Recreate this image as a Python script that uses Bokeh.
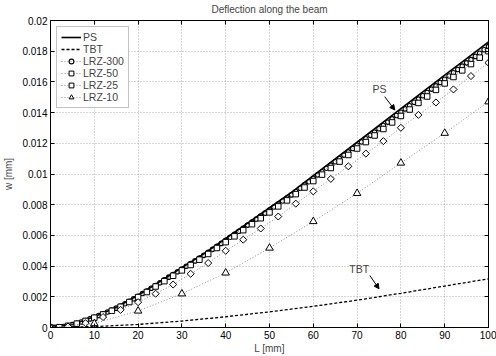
from bokeh.plotting import figure
from bokeh.models import (Range1d, LinearAxis, FixedTicker, CustomJSTickFormatter,
                          Legend, LegendItem, Label, Arrow, NormalHead, Title)
from bokeh.embed import file_html
from bokeh.resources import INLINE

# ---------------- data ----------------
L_ps = [0, 5, 10, 15, 20, 25, 30, 35, 40, 45, 50, 55, 60, 65, 70, 75, 80, 85, 90, 95, 100]
w_ps = [0, 0.0002, 0.0007, 0.0013, 0.0021, 0.0030, 0.0039, 0.0048, 0.0058, 0.0068, 0.0078,
        0.0088, 0.0099, 0.01099, 0.01208, 0.01317, 0.01426, 0.01535, 0.01644, 0.01752, 0.0186]

L_tbt = [0, 10, 20, 30, 40, 50, 60, 70, 80, 90, 100]
w_tbt = [0, 0.00006, 0.0002, 0.00042, 0.0007, 0.00102, 0.00138, 0.00178, 0.00223, 0.0027, 0.00317]

L_300 = list(range(0, 101))
w_300 = [0, 0.00001, 0.00003, 0.00007, 0.00012, 0.00019, 0.00027, 0.00036, 0.00045, 0.00056,
         0.00067, 0.00078, 0.00089, 0.00101, 0.00113, 0.00126, 0.00140, 0.00155, 0.00171, 0.00187,
         0.00204, 0.00221, 0.00238, 0.00256, 0.00274, 0.00292, 0.00310, 0.00328, 0.00345, 0.00363,
         0.00381, 0.00399, 0.00417, 0.00434, 0.00452, 0.00470, 0.00490, 0.00509, 0.00529, 0.00548,
         0.00568, 0.00588, 0.00607, 0.00627, 0.00647, 0.00667, 0.00687, 0.00706, 0.00726, 0.00745,
         0.00765, 0.00785, 0.00805, 0.00824, 0.00844, 0.00864, 0.00886, 0.00907, 0.00929, 0.00950,
         0.00972, 0.00994, 0.01015, 0.01037, 0.01058, 0.01080, 0.01101, 0.01123, 0.01144, 0.01166,
         0.01187, 0.01209, 0.01230, 0.01252, 0.01273, 0.01295, 0.01316, 0.01338, 0.01359, 0.01381,
         0.01402, 0.01424, 0.01445, 0.01467, 0.01488, 0.01510, 0.01531, 0.01553, 0.01574, 0.01596,
         0.01617, 0.01638, 0.01660, 0.01681, 0.01703, 0.01724, 0.01745, 0.01766, 0.01787, 0.01809,
         0.01830]

L_50 = list(range(0, 101, 2))
w_50 = [0, 0.00002, 0.00011, 0.00025, 0.00043, 0.00064, 0.00085, 0.00109, 0.00135, 0.00166,
        0.00198, 0.00231, 0.00267, 0.00302, 0.00337, 0.00372, 0.00407, 0.00442, 0.00479, 0.00518,
        0.00556, 0.00594, 0.00634, 0.00673, 0.00712, 0.00750, 0.00789, 0.00828, 0.00869, 0.00912,
        0.00954, 0.00996, 0.01039, 0.01081, 0.01124, 0.01166, 0.01208, 0.01251, 0.01293, 0.01336,
        0.01378, 0.01420, 0.01463, 0.01505, 0.01548, 0.01590, 0.01632, 0.01675, 0.01716, 0.01758,
        0.01800]

L_25 = list(range(0, 101, 4))
w_25 = [0, 0.00006, 0.00028, 0.00068, 0.00115, 0.00165, 0.0022, 0.0028, 0.0035, 0.0042,
        0.0050, 0.00572, 0.00645, 0.00723, 0.00807, 0.00887, 0.00968, 0.0105, 0.01133, 0.01214,
        0.01301, 0.01385, 0.01466, 0.01551, 0.01638, 0.01725]

L_10 = [0, 10, 20, 30, 40, 50, 60, 70, 80, 90, 100]
w_10 = [0, 0.00026, 0.00108, 0.0022, 0.00356, 0.00518, 0.00691, 0.00874, 0.01072, 0.01266, 0.01471]

x_ticks = [0, 10, 20, 30, 40, 50, 60, 70, 80, 90, 100]
y_ticks = [0, 0.002, 0.004, 0.006, 0.008, 0.01, 0.012, 0.014, 0.016, 0.018, 0.02]

FONT = "Liberation Sans"
FS = "10px"
FS_LEG = "10.5px"

p = figure(width=496, height=356, output_backend="svg", toolbar_location=None,
           x_range=Range1d(0, 100), y_range=Range1d(0, 0.02),
           min_border_left=49, min_border_right=8, min_border_top=20, min_border_bottom=27)

p.outline_line_color = "black"
p.outline_line_width = 1

fmt = CustomJSTickFormatter(code="return String(Math.round(tick*1000)/1000);")

for ax in (p.xaxis[0], p.yaxis[0]):
    ax.major_tick_in = 4
    ax.major_tick_out = 0
    ax.minor_tick_in = 0
    ax.minor_tick_out = 0
    ax.axis_line_color = "black"
    ax.major_label_text_font = FONT
    ax.major_label_text_font_size = FS
    ax.major_label_text_color = "black"
    ax.axis_label_text_font = FONT
    ax.axis_label_text_font_size = FS
    ax.axis_label_text_font_style = "normal"
    ax.major_label_standoff = 3

p.xaxis[0].ticker = FixedTicker(ticks=x_ticks)
p.yaxis[0].ticker = FixedTicker(ticks=y_ticks)
p.yaxis[0].formatter = fmt
p.xaxis[0].axis_label = "L [mm]"
p.yaxis[0].axis_label = "w [mm]"
p.xaxis[0].axis_label_standoff = 1
p.yaxis[0].axis_label_standoff = 5

top = LinearAxis(ticker=FixedTicker(ticks=x_ticks), major_tick_in=4, major_tick_out=0,
                 minor_tick_in=0, minor_tick_out=0, major_label_text_font_size="1px",
                 major_label_text_color=None, major_label_standoff=0)
right = LinearAxis(ticker=FixedTicker(ticks=y_ticks), major_tick_in=4, major_tick_out=0,
                   minor_tick_in=0, minor_tick_out=0, major_label_text_font_size="1px",
                   major_label_text_color=None, major_label_standoff=0)
p.add_layout(top, "above")
p.add_layout(right, "right")

title = Title(text="Deflection along the beam", align="center", vertical_align="top",
              text_font=FONT, text_font_size="10px", text_font_style="normal",
              offset=0, standoff=7)
p.add_layout(title, "above")

p.xgrid.ticker = FixedTicker(ticks=x_ticks)
p.ygrid.ticker = FixedTicker(ticks=y_ticks)
for g in (p.xgrid[0], p.ygrid[0]):
    g.grid_line_color = "#9a9a9a"
    g.grid_line_dash = "1 2"
    g.grid_line_width = 0.8

GRAY = "#6e6e6e"
DOT = "1 2"

r_ps = p.line(L_ps, w_ps, line_color="black", line_width=1.6)
r_tbt = p.line(L_tbt, w_tbt, line_color="black", line_width=1.3, line_dash="3 2")

l300 = p.line(L_300, w_300, line_color=GRAY, line_width=0.8, line_dash=DOT)
m300 = p.scatter(L_300, w_300, marker="circle", size=4.5, line_color="black", line_width=1.1,
                 fill_color=None)
l50 = p.line(L_50, w_50, line_color=GRAY, line_width=0.8, line_dash=DOT)
m50 = p.scatter(L_50, w_50, marker="square", size=5.5, line_color="black", line_width=1,
                fill_color="white")
l25 = p.line(L_25, w_25, line_color=GRAY, line_width=0.8, line_dash=DOT)
m25 = p.scatter(L_25, w_25, marker="square", angle=0.785398, size=5, line_color="black",
                line_width=1, fill_color="white")
l10 = p.line(L_10, w_10, line_color=GRAY, line_width=0.8, line_dash=DOT)
m10 = p.scatter(L_10, w_10, marker="triangle", size=7.5, line_color="black", line_width=1,
                fill_color="white")

legend = Legend(items=[
    LegendItem(label="PS", renderers=[r_ps]),
    LegendItem(label="TBT", renderers=[r_tbt]),
    LegendItem(label="LRZ-300", renderers=[l300, m300]),
    LegendItem(label="LRZ-50", renderers=[l50, m50]),
    LegendItem(label="LRZ-25", renderers=[l25, m25]),
    LegendItem(label="LRZ-10", renderers=[l10, m10]),
], location="top_left")
legend.margin = 6
legend.padding = 4
legend.spacing = 0
legend.glyph_width = 20
legend.glyph_height = 12
legend.label_height = 12
legend.label_standoff = 2
legend.label_text_font = FONT
legend.label_text_font_size = FS_LEG
legend.border_line_color = "#888888"
legend.border_line_width = 1
legend.background_fill_alpha = 1
p.add_layout(legend, "center")

# annotations
p.add_layout(Label(x=75.1, y=0.01553, text="PS", text_align="center", text_baseline="middle",
                   text_font=FONT, text_font_size=FS_LEG))
p.add_layout(Arrow(x_start=76.3, y_start=0.01504, x_end=78.6, y_end=0.01417,
                   line_width=1, end=NormalHead(size=5, fill_color="black", line_color="black")))
p.add_layout(Label(x=70.5, y=0.00382, text="TBT", text_align="center", text_baseline="middle",
                   text_font=FONT, text_font_size=FS_LEG))
p.add_layout(Arrow(x_start=72.9, y_start=0.00339, x_end=75.0, y_end=0.00252,
                   line_width=1, end=NormalHead(size=5, fill_color="black", line_color="black")))

open("out.html", "w").write(file_html(p, INLINE))
